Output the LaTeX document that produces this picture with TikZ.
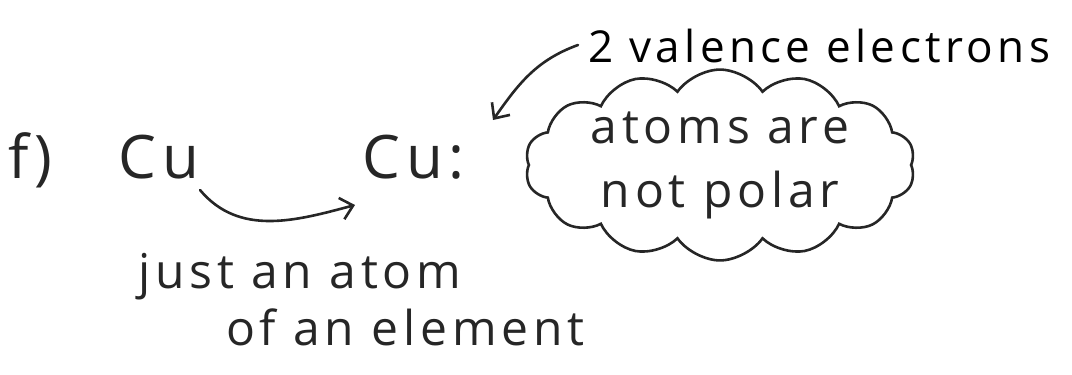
\documentclass[tikz,border=0pt]{standalone}
\usepackage{fontspec}
\setmainfont{Open Sans}
\newfontfamily\handfont[LetterSpace=10]{Open Sans}
\usetikzlibrary{shapes.symbols,arrows.meta}
\begin{document}
\begin{tikzpicture}[x=1pt,y=-1pt,
  hand/.style={font=\handfont\fontsize{48}{64}\selectfont\color{black!85}},
  big/.style={font=\handfont\fontsize{60}{66}\selectfont\color{black!85}},
  pen/.style={draw=black!85,line width=2.6pt,line cap=round},
  arr/.style={pen,-{Straight Barb[length=12pt,width=22pt,line width=2.6pt]}}]
\useasboundingbox (0,0) rectangle (1072,375);
\node[big,anchor=base west,inner sep=0pt] (f) at (8,178) {f)};
\node[big,anchor=base west,inner sep=0pt] (cu1) at (118,178) {Cu};
\node[big,anchor=base west,inner sep=0pt] (cu2) at (362,178) {Cu:};
\node[hand,font=\handfont\fontsize{44}{54}\selectfont,anchor=base west,inner sep=0pt] (val) at (588,62) {2 valence electrons};
\node[cloud,pen,cloud puffs=14,cloud puff arc=110,aspect=2.4,minimum width=390pt,minimum height=158pt,inner sep=0pt,
  hand,align=center] (cl) at (720,165) {atoms are\\not polar};
\node[hand,anchor=base west,inner sep=0pt] (just) at (138,288) {just an atom};
\node[hand,anchor=base west,inner sep=0pt] (elem) at (226,345) {of an element};
\coordinate (s1) at (200,190);
\coordinate (t1) at (355,205);
\coordinate (s2) at (578,45);
\coordinate (t2) at (493,120);
\draw[arr] (s1) to[out=-50,in=195] (t1);
\draw[arr] (s2) to[out=200,in=55] (t2);
\end{tikzpicture}
\end{document}
